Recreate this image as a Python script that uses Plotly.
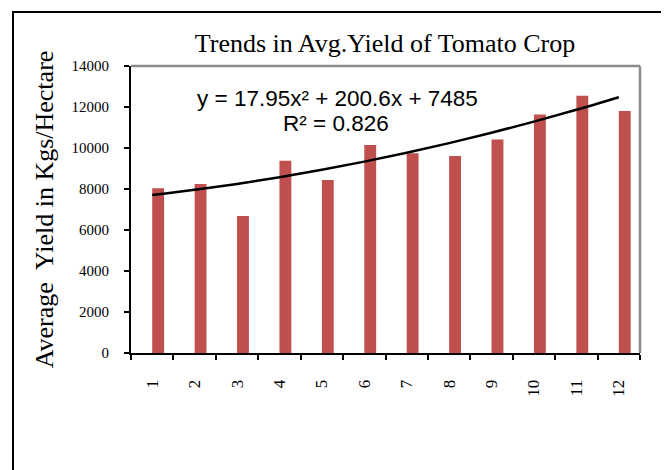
import plotly.graph_objects as go

categories = [str(i) for i in range(1, 13)]
yield_values = [8040, 8240, 6680, 9380, 8440, 10150, 9750, 9610, 10420, 11640, 12550, 11800]
trend_coeffs = [17.95, 200.6, 7485]  # a*x^2 + b*x + c (displayed trendline)
y_ticks = [0, 2000, 4000, 6000, 8000, 10000, 12000, 14000]

xs = list(range(1, 13))
trend_values = [trend_coeffs[0] * x * x + trend_coeffs[1] * x + trend_coeffs[2] for x in xs]

fig = go.Figure()
fig.add_trace(go.Bar(
    x=categories, y=yield_values, width=0.28, offset=0,
    marker=dict(color="#C0504D", line=dict(width=0)),
    showlegend=False,
))
fig.add_trace(go.Scatter(
    x=categories, y=trend_values, mode="lines",
    line=dict(color="black", width=2.5, shape="spline"),
    showlegend=False,
))

serif = "Liberation Serif, Times New Roman, serif"
sans = "Liberation Sans, Arial, sans-serif"

# page body has an 8px margin, so the figure is laid out 8px up/left
W, H = 661, 462
fig.update_layout(
    width=W, height=H,
    margin=dict(l=123, r=29, t=58, b=117, autoexpand=False),
    paper_bgcolor="white", plot_bgcolor="white",
    title=dict(text="Trends in Avg.Yield of Tomato Crop", x=377 / W, xanchor="center",
               y=1 - 35 / H, yanchor="middle", automargin=False,
               font=dict(family=serif, size=26, color="black")),
    xaxis=dict(
        type="category", tickson="boundaries", ticks="outside", ticklen=5,
        tickcolor="black", tickwidth=1.5, showline=True, linecolor="black", linewidth=2,
        showgrid=False, tickangle=-90, ticklabelstandoff=18, automargin=False,
        tickfont=dict(family=serif, size=17, color="black"),
    ),
    yaxis=dict(
        range=[0, 14000], tickvals=y_ticks, ticktext=[str(v) for v in y_ticks],
        ticks="outside", ticklen=5, automargin=False, ticklabelstandoff=12,
        tickcolor="black", tickwidth=1.5, showline=True, linecolor="black", linewidth=2,
        showgrid=False, zeroline=False,
        tickfont=dict(family=serif, size=15, color="black"),
        title=dict(text="Average  Yield in Kgs/Hectare", standoff=10,
                   font=dict(family=serif, size=26, color="black")),
    ),
    shapes=[
        # gray top and right frame of plot area
        dict(type="line", xref="paper", yref="paper", x0=0, x1=1, y0=1, y1=1,
             line=dict(color="#8c8c8c", width=2.5)),
        dict(type="line", xref="paper", yref="paper", x0=1, x1=1, y0=0, y1=1,
             line=dict(color="#8c8c8c", width=2.5)),
        # outer border
        dict(type="rect", xref="paper", yref="paper", xsizemode="pixel", ysizemode="pixel",
             xanchor=0, yanchor=0, x0=-118, x1=536, y0=-130, y1=341,
             line=dict(color="black", width=2)),
    ],
    annotations=[
        dict(text="y = 17.95x² + 200.6x + 7485", xref="paper", yref="paper",
             x=(337 - 131) / 509, y=(353 - 98) / 287, xanchor="center", yanchor="middle",
             showarrow=False, font=dict(family=sans, size=22.5, color="black")),
        dict(text="R² = 0.826", xref="paper", yref="paper",
             x=(336 - 131) / 509, y=(353 - 123) / 287, xanchor="center", yanchor="middle",
             showarrow=False, font=dict(family=sans, size=22.5, color="black")),
    ],
)

fig.write_html("out.html")
